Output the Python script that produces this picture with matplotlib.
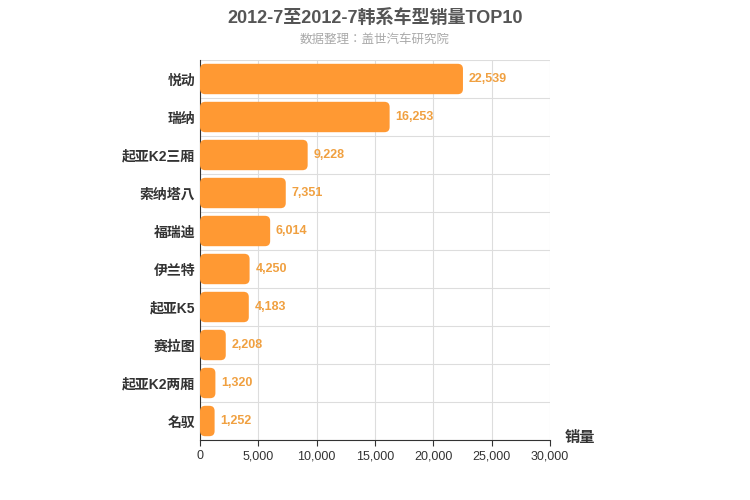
import matplotlib.pyplot as plt
from matplotlib.patches import FancyBboxPatch

plt.rcParams['font.family'] = ['Liberation Sans', 'Noto Sans CJK JP', 'Noto Sans CJK SC',
                               'Noto Sans CJK TC', 'Noto Sans CJK KR', 'DejaVu Sans']

models = ['悦动', '瑞纳', '起亚K2三厢', '索纳塔八', '福瑞迪', '伊兰特', '起亚K5', '赛拉图', '起亚K2两厢', '名驭']
sales = [22539, 16253, 9228, 7351, 6014, 4250, 4183, 2208, 1320, 1252]
xticks = [0, 5000, 10000, 15000, 20000, 25000, 30000]

fig = plt.figure(figsize=(7.5, 5), dpi=100)
ax = fig.add_axes([200 / 750, 60 / 500, 350 / 750, 380 / 500])

n = len(models)
h = 0.8
for i, v in enumerate(sales):
    y = n - 1 - i
    ax.add_patch(FancyBboxPatch((0, y - h / 2), v, h,
                                boxstyle='round,pad=0,rounding_size=450',
                                mutation_aspect=0.0003,
                                fc='#FF9933', ec='none', zorder=3))
    ax.text(v + 500, y, f'{v:,}', va='center', ha='left',
            fontsize=9, color='#F0A040', fontweight='bold', zorder=4)

ax.set_xlim(0, 30000)
ax.set_ylim(-0.5, n - 0.5)
ax.set_yticks(range(n))
ax.set_yticklabels(models[::-1], fontsize=10, fontweight='bold', color='#333333')
ax.set_xticks(xticks)
ax.set_xticklabels([f'{t:,}' for t in xticks], fontsize=9, color='#333333')
ax.set_yticks([i + 0.5 for i in range(-1, n)], minor=True)
ax.grid(True, axis='x', color='#dddddd', zorder=0)
ax.grid(True, axis='y', which='minor', color='#dddddd', zorder=0)
ax.tick_params(axis='y', which='both', length=0)
ax.tick_params(axis='x', length=4, color='#333333')
for s in ['top', 'right']:
    ax.spines[s].set_visible(False)
ax.spines['left'].set_color('#333333')
ax.spines['bottom'].set_color('#333333')

fig.text(0.5, 0.965, '2012-7至2012-7韩系车型销量TOP10', ha='center', va='center',
         fontsize=13, fontweight='bold', color='#555555')
fig.text(0.5, 0.92, '数据整理：盖世汽车研究院', ha='center', va='center',
         fontsize=9, color='#aaaaaa')
fig.text(565 / 750, 1 - 438 / 500, '销量', ha='left', va='center',
         fontsize=11, fontweight='bold', color='#333333')

plt.savefig('out.png', dpi=100)
